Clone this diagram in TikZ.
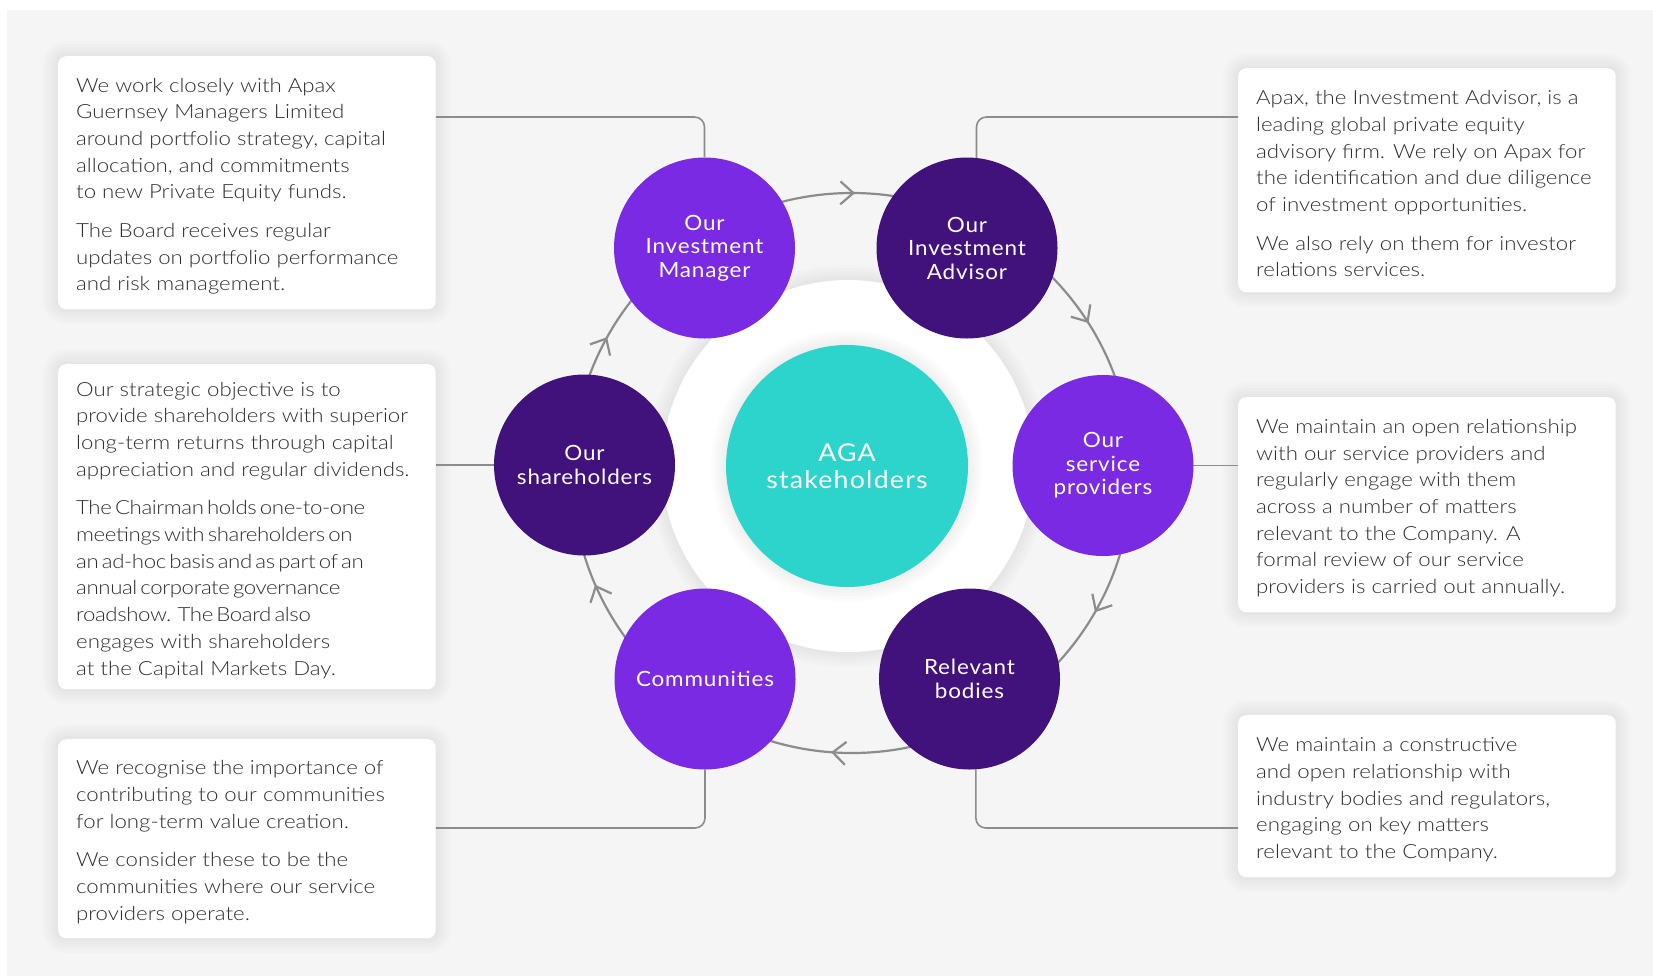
\documentclass[tikz,border=0pt]{standalone}
\usepackage{fontspec}
\setmainfont{Lato Light}[FakeStretch=1.14]
\newfontfamily\circfont{Lato}[LetterSpace=4,FakeStretch=1.07]
\newfontfamily\hubfont{Lato}[LetterSpace=5,FakeStretch=1.09]
\newfontfamily\tightfont{Lato Light}[LetterSpace=-2,WordSpace=0.55,FakeStretch=1.14]
\usepackage{tikz}
\usetikzlibrary{arrows.meta,decorations.markings}
\definecolor{panel}{HTML}{F5F5F5}
\definecolor{wire}{HTML}{8C8C8C}
\definecolor{ink}{HTML}{2E2E2E}
\definecolor{lilac}{HTML}{7A2AE2}
\definecolor{plum}{HTML}{42127C}
\definecolor{aqua}{HTML}{2DD4CB}
\tikzstyle{halo} = [preaction={draw=black, draw opacity=0.013, line width=30pt},
	preaction={draw=black, draw opacity=0.013, line width=24pt},
	preaction={draw=black, draw opacity=0.013, line width=18pt},
	preaction={draw=black, draw opacity=0.013, line width=12pt},
	preaction={draw=black, draw opacity=0.013, line width=6pt}]
\tikzstyle{card} = [halo, fill=white, rounded corners=8pt, inner sep=0pt, minimum width=377.5pt, anchor=north west]
\tikzstyle{blurb} = [anchor=west, xshift=18pt, yshift=-3.5pt, inner sep=0pt, align=left, text=ink, font=\fontsize{19.5pt}{26.7pt}\selectfont]
\tikzstyle{sat} = [circle, inner sep=0pt, minimum size=181pt, text=white, align=center, font=\circfont\fontsize{21pt}{23.5pt}\selectfont]
\tikzstyle{link} = [draw=wire, line width=1.6pt, rounded corners=10pt]
\tikzstyle{orbit} = [draw=wire, line width=2.2pt, postaction=decorate, decoration={markings,
	mark=at position 0.0828 with {\arrow{Straight Barb[length=13pt,width=23pt]}},
	mark=at position 0.2619 with {\arrow{Straight Barb[length=13pt,width=23pt]}},
	mark=at position 0.4347 with {\arrow{Straight Barb[length=13pt,width=23pt]}},
	mark=at position 0.5806 with {\arrow{Straight Barb[length=13pt,width=23pt]}},
	mark=at position 0.7517 with {\arrow{Straight Barb[length=13pt,width=23pt]}},
	mark=at position 0.9100 with {\arrow{Straight Barb[length=13pt,width=23pt]}}}]

\begin{document}
\begin{tikzpicture}[yscale=-1]
			\useasboundingbox (0pt,0pt) rectangle (1653pt,978pt);
			\fill[white] (0pt,0pt) rectangle (1653pt,978pt);
			\fill[panel] (7pt,10pt) rectangle (1653pt,976pt);
			\coordinate (ring) at (852pt,473pt);
			\path[orbit] (ring) circle[radius=280pt];
			\node[circle, halo, fill=white, minimum size=372pt] (disk) at (848pt,466pt) {};
			\node[circle, halo, fill=aqua, minimum size=242pt, inner sep=0pt, text=white, align=center, font=\hubfont\fontsize{24.5pt}{26.7pt}\selectfont] (hub) at (847pt,466pt) {AGA\\stakeholders};
			\node[sat, fill=lilac] (man) at (704.5pt,248pt) {Our\\Investment\\Manager};
			\node[sat, fill=plum] (adv) at (967pt,248pt) {Our\\Investment\\Advisor};
			\node[sat, fill=lilac] (svc) at (1103pt,465.5pt) {Our\\service\\providers};
			\node[sat, fill=plum] (rel) at (969.5pt,679pt) {Relevant\\bodies};
			\node[sat, fill=lilac] (com) at (705pt,679pt) {Communities};
			\node[sat, fill=plum] (sha) at (584.5pt,465pt) {Our\\shareholders};
			\node[card, minimum height=253pt] (tl) at (58pt,56pt) {};
			\node[blurb] at (tl.west) {We work closely with Apax\\Guernsey Managers Limited\\around portfolio strategy, capital\\allocation, and commitments\\to new Private Equity funds.\\[12pt]The Board receives regular\\updates on portfolio performance\\and risk management.};
			\node[card, minimum height=325pt] (ml) at (58pt,364pt) {};
			\node[blurb] at (ml.west) {Our strategic objective is to\\provide shareholders with superior\\long-term returns through capital\\appreciation and regular dividends.\\[12pt]{\tightfont The Chairman holds one-to-one}\\{\tightfont meetings with shareholders on}\\{\tightfont an ad-hoc basis and as part of an}\\{\tightfont annual corporate governance}\\{\tightfont roadshow.\ \ The Board also}\\engages with shareholders\\at the Capital Markets Day.};
			\node[card, minimum height=199pt] (bl) at (58pt,739pt) {};
			\node[blurb] at (bl.west) {We recognise the importance of\\contributing to our communities\\for long-term value creation.\\[12pt]We consider these to be the\\communities where our service\\providers operate.};
			\node[card, minimum height=224pt] (tr) at (1238pt,68pt) {};
			\node[blurb] at (tr.west) {Apax, the Investment Advisor, is a\\leading global private equity\\advisory firm. We rely on Apax for\\the identification and due diligence\\of investment opportunities.\\[12pt]We also rely on them for investor\\relations services.};
			\node[card, minimum height=215pt] (mr) at (1238pt,397pt) {};
			\node[blurb] at (mr.west) {We maintain an open relationship\\with our service providers and\\regularly engage with them\\across a number of matters\\relevant to the Company. A\\formal review of our service\\providers is carried out annually.};
			\node[card, minimum height=162pt] (br) at (1238pt,715pt) {};
			\node[blurb] at (br.west) {We maintain a constructive\\and open relationship with\\industry bodies and regulators,\\engaging on key matters\\relevant to the Company.};
			\draw[link] (tl.east |- 0pt,117pt) -| (man.north);
			\draw[link] (tr.west |- 0pt,117pt) -| (adv.84);
			\draw[link] (ml.east |- sha.west) -- (sha.west);
			\draw[link] (svc.east) -- (mr.west |- svc.east);
			\draw[link] (bl.east |- 0pt,828pt) -| (com.south);
			\draw[link] (br.west |- 0pt,828pt) -| (rel.-86);
		\end{tikzpicture}
\end{document}
